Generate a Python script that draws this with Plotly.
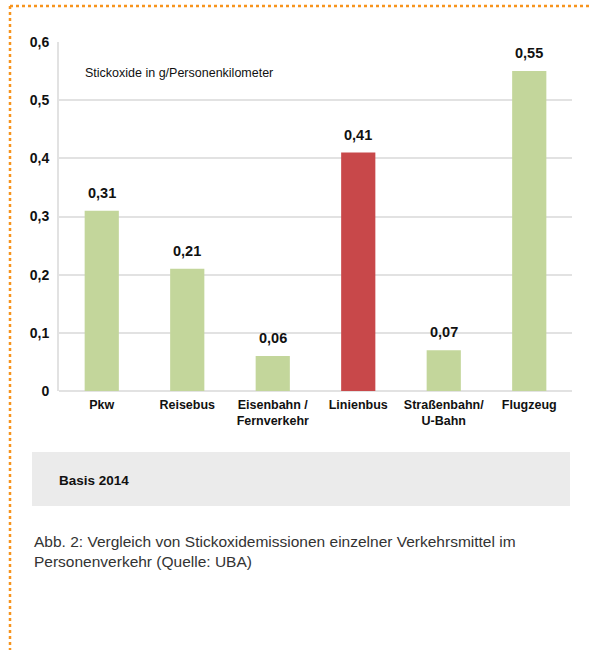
import plotly.graph_objects as go

categories = ["Pkw", "Reisebus", "Eisenbahn /<br>Fernverkehr", "Linienbus", "Straßenbahn/<br>U-Bahn", "Flugzeug"]
values = [0.31, 0.21, 0.06, 0.41, 0.07, 0.55]
value_labels = ["0,31", "0,21", "0,06", "0,41", "0,07", "0,55"]
bar_colors = ["#c3d69b", "#c3d69b", "#c3d69b", "#c8484a", "#c3d69b", "#c3d69b"]
tick_vals = [0, 0.1, 0.2, 0.3, 0.4, 0.5, 0.6]
tick_text = ["0", "0,1", "0,2", "0,3", "0,4", "0,5", "0,6"]

FONT = "Liberation Sans, Arial, sans-serif"
W, H = 589, 650
L, R, T, B = 59, 17, 42, 259
PW, PH = W - L - R, H - T - B

def fx(px):
    return (px - L) / PW

def fy(py):
    return (H - B - py) / PH

fig = go.Figure()
fig.add_trace(go.Bar(
    x=categories, y=values, marker=dict(color=bar_colors, line=dict(width=0)),
    width=0.4, hoverinfo="skip", showlegend=False,
))

for c, v, t in zip(categories, values, value_labels):
    fig.add_annotation(x=c, y=v, text="<b>%s</b>" % t, showarrow=False,
                       yanchor="bottom", yshift=8,
                       font=dict(family=FONT, size=14.5, color="#111"))

fig.add_annotation(x=fx(83), y=fy(73), xref="paper", yref="paper", xanchor="left", yanchor="middle",
                   text="Stickoxide in g/Personenkilometer", showarrow=False,
                   font=dict(family=FONT, size=12.5, color="#111"))

# grey box
fig.add_shape(type="rect", xref="paper", yref="paper", x0=fx(32), x1=fx(570), y0=fy(506), y1=fy(452),
              fillcolor="#ebebeb", line=dict(width=0), layer="below")
fig.add_annotation(x=fx(57), y=fy(480), xref="paper", yref="paper", xanchor="left", yanchor="middle",
                   text="<b>Basis 2014</b>", showarrow=False,
                   font=dict(family=FONT, size=13.5, color="#111"))

fig.add_annotation(x=fx(32), y=fy(541), xref="paper", yref="paper", xanchor="left", yanchor="middle",
                   text="Abb. 2: Vergleich von Stickoxidemissionen einzelner Verkehrsmittel im",
                   showarrow=False, font=dict(family=FONT, size=15.5, color="#333"))
fig.add_annotation(x=fx(32), y=fy(561), xref="paper", yref="paper", xanchor="left", yanchor="middle",
                   text="Personenverkehr (Quelle: UBA)",
                   showarrow=False, font=dict(family=FONT, size=15.5, color="#333"))

# orange dotted frame
orange = dict(color="#f7941d", width=2.5, dash="dot")
fig.add_shape(type="line", xref="paper", yref="paper", x0=fx(10), x1=fx(589), y0=fy(6), y1=fy(6), line=orange)
fig.add_shape(type="line", xref="paper", yref="paper", x0=fx(10), x1=fx(10), y0=fy(6), y1=fy(650), line=orange)

fig.update_layout(
    width=W, height=H, margin=dict(l=L, r=R, t=T, b=B),
    paper_bgcolor="white", plot_bgcolor="white",
    font=dict(family=FONT, size=13, color="#111"),
    bargap=0.6,
)
fig.update_xaxes(range=[-0.5, 5.5], showgrid=False, showline=False, zeroline=False,
                 tickangle=0,
                 tickfont=dict(family=FONT, size=12.5, color="#111"), ticklabelstandoff=4,
                 tickprefix="<b>", ticksuffix="</b>")
fig.update_yaxes(range=[0, 0.6], tickvals=tick_vals, ticktext=["<b>%s</b>" % t for t in tick_text],
                 showgrid=True, gridcolor="#e2e2e2", gridwidth=2,
                 showline=True, linecolor="#e2e2e2", linewidth=2,
                 zeroline=True, zerolinecolor="#e2e2e2", zerolinewidth=2,
                 tickfont=dict(family=FONT, size=14, color="#111"), ticklabelstandoff=5)

fig.write_html("out.html")
